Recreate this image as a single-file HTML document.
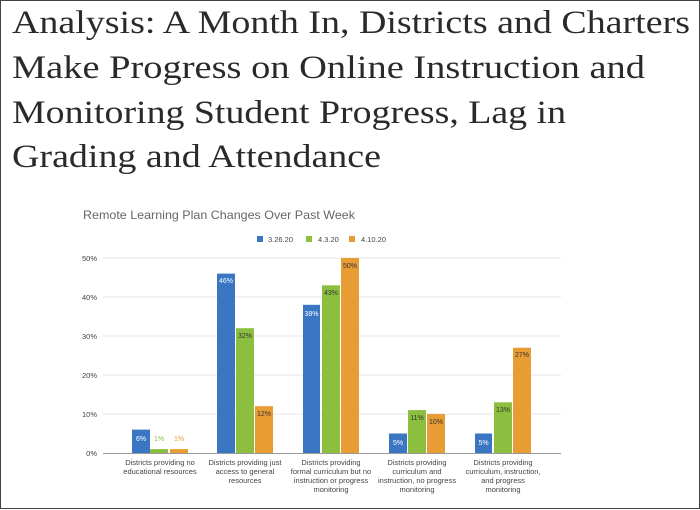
<!DOCTYPE html>
<html><head><meta charset="utf-8"><style>
html,body{margin:0;padding:0;background:#fff;}
svg{display:block;}
</style></head><body>
<svg width="700" height="510" xmlns="http://www.w3.org/2000/svg">
<rect x="0.5" y="0.5" width="699" height="508" fill="#fff" stroke="#444" stroke-width="1"/>
<g font-family="Liberation Serif, serif" font-size="33" fill="#2a2a2a">
<text x="12" y="33" textLength="678" lengthAdjust="spacingAndGlyphs">Analysis: A Month In, Districts and Charters</text>
<text x="12" y="78" textLength="633" lengthAdjust="spacingAndGlyphs">Make Progress on Online Instruction and</text>
<text x="12" y="123" textLength="554" lengthAdjust="spacingAndGlyphs">Monitoring Student Progress, Lag in</text>
<text x="12" y="167" textLength="369" lengthAdjust="spacingAndGlyphs">Grading and Attendance</text>
</g>
<g font-family="Liberation Sans, sans-serif">
<text x="83" y="219" font-size="12" fill="#666" textLength="272" lengthAdjust="spacingAndGlyphs">Remote Learning Plan Changes Over Past Week</text>
<rect x="257" y="236" width="6" height="6" fill="#3a76c2"/><text x="268" y="242" font-size="7.5" fill="#444">3.26.20</text>
<rect x="306" y="236" width="6" height="6" fill="#8cbf3f"/><text x="318" y="242" font-size="7.5" fill="#444">4.3.20</text>
<rect x="349" y="236" width="6" height="6" fill="#e89c34"/><text x="361" y="242" font-size="7.5" fill="#444">4.10.20</text>
<g stroke="#e4e4e4" stroke-width="1">
<line x1="103" y1="258" x2="561" y2="258"/><line x1="103" y1="297" x2="561" y2="297"/>
<line x1="103" y1="336" x2="561" y2="336"/><line x1="103" y1="375" x2="561" y2="375"/>
<line x1="103" y1="414" x2="561" y2="414"/>
</g>
<line x1="103" y1="453.5" x2="561" y2="453.5" stroke="#999"/>
<g font-size="7.5" fill="#444" text-anchor="end">
<text x="97" y="261">50%</text><text x="97" y="300">40%</text><text x="97" y="339">30%</text>
<text x="97" y="378">20%</text><text x="97" y="417">10%</text><text x="97" y="456">0%</text>
</g>
<g>
<rect x="132" y="429.6" width="18" height="23.4" fill="#3a76c2"/>
<rect x="150" y="449.1" width="18" height="3.9" fill="#8cbf3f"/>
<rect x="170" y="449.1" width="18" height="3.9" fill="#e89c34"/>
<rect x="217" y="273.6" width="18" height="179.4" fill="#3a76c2"/>
<rect x="236" y="328.2" width="18" height="124.8" fill="#8cbf3f"/>
<rect x="255" y="406.2" width="18" height="46.8" fill="#e89c34"/>
<rect x="303" y="304.8" width="17" height="148.2" fill="#3a76c2"/>
<rect x="322" y="285.3" width="18" height="167.7" fill="#8cbf3f"/>
<rect x="341" y="258" width="18" height="195" fill="#e89c34"/>
<rect x="389" y="433.5" width="18" height="19.5" fill="#3a76c2"/>
<rect x="408" y="410.1" width="18" height="42.9" fill="#8cbf3f"/>
<rect x="427" y="414" width="18" height="39" fill="#e89c34"/>
<rect x="475" y="433.5" width="17" height="19.5" fill="#3a76c2"/>
<rect x="494" y="402.3" width="18" height="50.7" fill="#8cbf3f"/>
<rect x="513" y="347.7" width="18" height="105.3" fill="#e89c34"/>
</g>
<g font-size="7" text-anchor="middle">
<text x="141" y="441" fill="#fff">6%</text>
<text x="159" y="441" fill="#8cbf3f">1%</text>
<text x="179" y="441" fill="#e89c34">1%</text>
<text x="226" y="283" fill="#fff">46%</text>
<text x="245" y="338" fill="#333">32%</text>
<text x="264" y="416" fill="#333">12%</text>
<text x="311.5" y="316" fill="#fff">38%</text>
<text x="331" y="295" fill="#333">43%</text>
<text x="350" y="268" fill="#333">50%</text>
<text x="398" y="445" fill="#fff">5%</text>
<text x="417" y="420" fill="#333">11%</text>
<text x="436" y="424" fill="#333">10%</text>
<text x="483.5" y="445" fill="#fff">5%</text>
<text x="503" y="412" fill="#333">13%</text>
<text x="522" y="357" fill="#333">27%</text>
</g>
<g font-size="7.5" fill="#444" text-anchor="middle">
<text x="160" y="465">Districts providing no</text><text x="160" y="474">educational resources</text>
<text x="245" y="465">Districts providing just</text><text x="245" y="474">access to general</text><text x="245" y="483">resources</text>
<text x="331" y="465">Districts providing</text><text x="331" y="474">formal curriculum but no</text><text x="331" y="483">instruction or progress</text><text x="331" y="492">monitoring</text>
<text x="417" y="465">Districts providing</text><text x="417" y="474">curriculum and</text><text x="417" y="483">instruction, no progress</text><text x="417" y="492">monitoring</text>
<text x="503" y="465">Districts providing</text><text x="503" y="474">curriculum, instruction,</text><text x="503" y="483">and progress</text><text x="503" y="492">monitoring</text>
</g>
</g>
</svg>
</body></html>
